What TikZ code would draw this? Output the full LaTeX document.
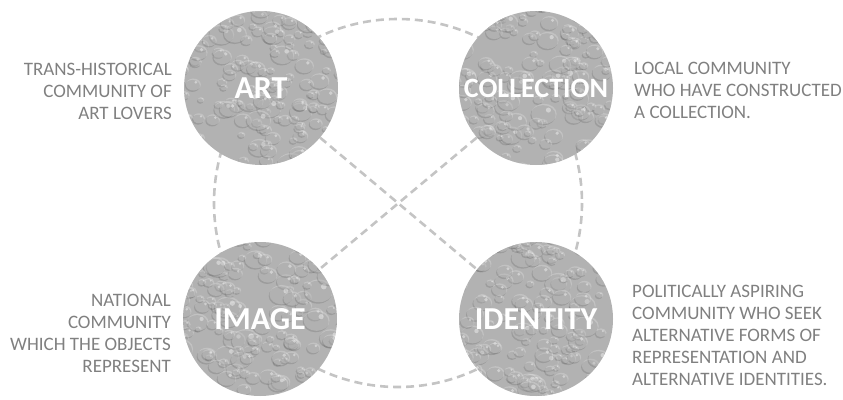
\documentclass[tikz,border=0pt]{standalone}
\usepackage{fontspec}
\setmainfont{Carlito}
\usepackage{tikz}
\usetikzlibrary{positioning,calc}

\definecolor{dropgray}{HTML}{B2B2B2}
\definecolor{ringgray}{HTML}{C4C4C4}
\definecolor{textgray}{HTML}{808080}

\tikzset{
  ring/.style={draw=ringgray,line width=2.6pt,dash pattern=on 8pt off 5pt},
  drop/.style={circle,minimum size=154pt,inner sep=0pt,fill=dropgray,text=white,
    font=\bfseries\fontsize{32}{34}\selectfont,
    path picture={
      \coordinate (pc) at (path picture bounding box.center);
      \foreach \k in {1,...,150}{
        \pgfmathsetmacro\px{rand*82}\pgfmathsetmacro\py{rand*82}\pgfmathsetmacro\rr{3+11*rnd*rnd+2*rnd}
        \fill[black,opacity=.12] ($(pc)+(\px-0.9,\py+1.4)$) ellipse[x radius=\rr,y radius=0.8*\rr];
        \fill[white,opacity=.22] ($(pc)+(\px,\py)$) ellipse[x radius=\rr,y radius=0.8*\rr];
        \fill[white,opacity=.40] ($(pc)+(\px+0.35*\rr,\py-0.3*\rr)$) circle (0.2*\rr);
      }}},
  note/.style={text=textgray,font=\fontsize{19}{22}\selectfont,inner sep=0pt}
}

\begin{document}
\begin{tikzpicture}[x=1pt,y=-1pt]
  \useasboundingbox (0,0) rectangle (843,399);
  \pgfmathsetseed{7}
  % dashed ring through the four circles
  \coordinate (mid) at (398,203);
  \draw[ring] (mid) circle (184);
  % the four communities
  \node[drop] (art)   at (261,88)  {\raisebox{-3pt}{ART}};
  \node[drop,font=\bfseries\fontsize{28}{30}\selectfont] (coll) at (536,88) {\raisebox{-2pt}{COLLECTION}};
  \node[drop] (img)   at (260,319) {\raisebox{-3pt}{IMAGE}};
  \node[drop] (ident) at (536,319) {\raisebox{-3pt}{IDENTITY}};
  % cross
  \draw[ring] (art) -- (ident);
  \draw[ring] (coll) -- (img);
  % descriptions
  \node[note,align=right,anchor=east] (artnote) at (172,91)
    {TRANS-HISTORICAL\\COMMUNITY OF\\ART LOVERS};
  \node[note,align=left,anchor=west] (collnote) at (634,90)
    {LOCAL COMMUNITY\\WHO HAVE CONSTRUCTED\\A COLLECTION.};
  \node[note,align=right,anchor=east] (imgnote) at (171,333)
    {NATIONAL\\COMMUNITY\\WHICH THE OBJECTS\\REPRESENT};
  \node[note,align=left,anchor=west] (identnote) at (632,335)
    {POLITICALLY ASPIRING\\COMMUNITY WHO SEEK\\ALTERNATIVE FORMS OF\\REPRESENTATION AND\\ALTERNATIVE IDENTITIES.};
\end{tikzpicture}
\end{document}
